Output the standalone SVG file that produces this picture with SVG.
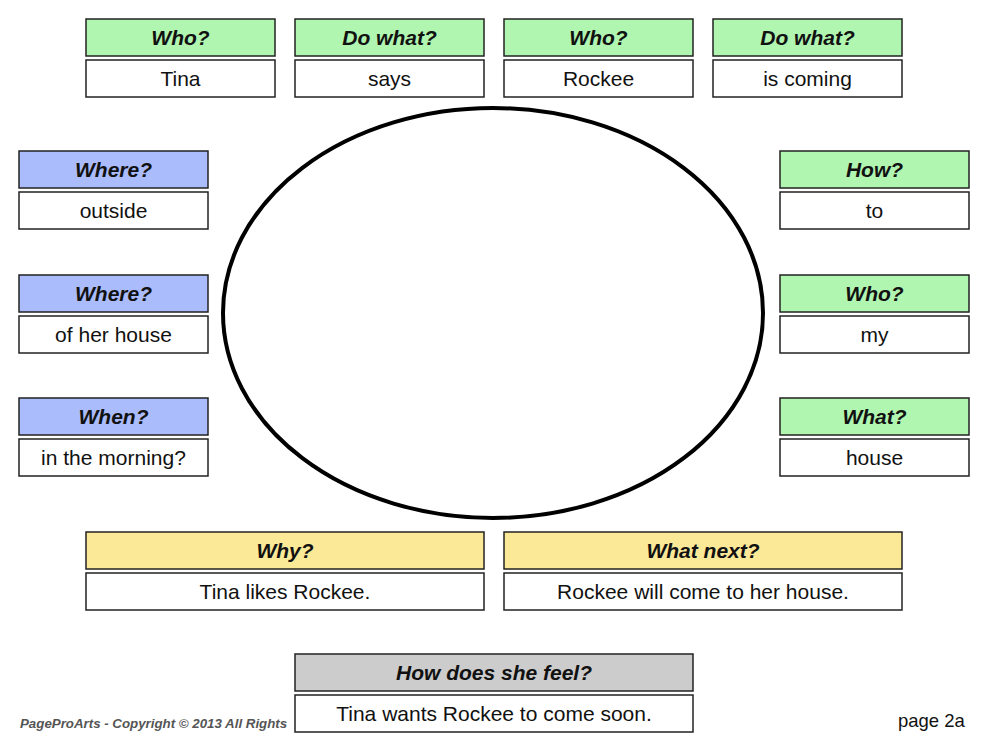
<svg xmlns="http://www.w3.org/2000/svg" width="988" height="750" viewBox="0 0 988 750">
<style>
.h{stroke:#222;stroke-width:1.5}
.v{fill:#fff;stroke:#222;stroke-width:1.5}
.g{fill:#b0f5b0}.b{fill:#aabcfb}.y{fill:#fbe998}.k{fill:#cccccc}
.ht{font-family:"Liberation Sans",Arial,sans-serif;font-size:21px;font-weight:bold;font-style:italic;fill:#111;text-anchor:middle}
.vt{font-family:"Liberation Sans",Arial,sans-serif;font-size:21px;fill:#111;text-anchor:middle}
</style>
<rect width="988" height="750" fill="#fff"/>
<g id="ellipse"><ellipse cx="493" cy="313" rx="270" ry="205" fill="none" stroke="#000" stroke-width="4"/></g>
<g id="n1"><rect class="h g" x="86" y="19" width="189" height="37"/><text class="ht" x="180.5" y="45">Who?</text><rect class="v" x="86" y="60" width="189" height="37"/><text class="vt" x="180.5" y="86">Tina</text></g>
<g id="n2"><rect class="h g" x="295" y="19" width="189" height="37"/><text class="ht" x="389.5" y="45">Do what?</text><rect class="v" x="295" y="60" width="189" height="37"/><text class="vt" x="389.5" y="86">says</text></g>
<g id="n3"><rect class="h g" x="504" y="19" width="189" height="37"/><text class="ht" x="598.5" y="45">Who?</text><rect class="v" x="504" y="60" width="189" height="37"/><text class="vt" x="598.5" y="86">Rockee</text></g>
<g id="n4"><rect class="h g" x="713" y="19" width="189" height="37"/><text class="ht" x="807.5" y="45">Do what?</text><rect class="v" x="713" y="60" width="189" height="37"/><text class="vt" x="807.5" y="86">is coming</text></g>
<g id="n5"><rect class="h b" x="19" y="151" width="189" height="37"/><text class="ht" x="113.5" y="177">Where?</text><rect class="v" x="19" y="192" width="189" height="37"/><text class="vt" x="113.5" y="218">outside</text></g>
<g id="n6"><rect class="h b" x="19" y="275" width="189" height="37"/><text class="ht" x="113.5" y="301">Where?</text><rect class="v" x="19" y="316" width="189" height="37"/><text class="vt" x="113.5" y="342">of her house</text></g>
<g id="n7"><rect class="h b" x="19" y="398" width="189" height="37"/><text class="ht" x="113.5" y="424">When?</text><rect class="v" x="19" y="439" width="189" height="37"/><text class="vt" x="113.5" y="465">in the morning?</text></g>
<g id="n8"><rect class="h g" x="780" y="151" width="189" height="37"/><text class="ht" x="874.5" y="177">How?</text><rect class="v" x="780" y="192" width="189" height="37"/><text class="vt" x="874.5" y="218">to</text></g>
<g id="n9"><rect class="h g" x="780" y="275" width="189" height="37"/><text class="ht" x="874.5" y="301">Who?</text><rect class="v" x="780" y="316" width="189" height="37"/><text class="vt" x="874.5" y="342">my</text></g>
<g id="n10"><rect class="h g" x="780" y="398" width="189" height="37"/><text class="ht" x="874.5" y="424">What?</text><rect class="v" x="780" y="439" width="189" height="37"/><text class="vt" x="874.5" y="465">house</text></g>
<g id="n11"><rect class="h y" x="86" y="532" width="398" height="37"/><text class="ht" x="285" y="558">Why?</text><rect class="v" x="86" y="573" width="398" height="37"/><text class="vt" x="285" y="599">Tina likes Rockee.</text></g>
<g id="n12"><rect class="h y" x="504" y="532" width="398" height="37"/><text class="ht" x="703" y="558">What next?</text><rect class="v" x="504" y="573" width="398" height="37"/><text class="vt" x="703" y="599">Rockee will come to her house.</text></g>
<g id="n13"><rect class="h k" x="295" y="654" width="398" height="37"/><text class="ht" x="494" y="680">How does she feel?</text><rect class="v" x="295" y="695" width="398" height="37"/><text class="vt" x="494" y="721">Tina wants Rockee to come soon.</text></g>
<g id="connectors"></g>
<text x="20" y="728" font-family="Liberation Sans,Arial,sans-serif" font-size="13.3" font-weight="bold" font-style="italic" fill="#555">PageProArts - Copyright © 2013 All Rights</text>
<text x="898" y="727" font-family="Liberation Sans,Arial,sans-serif" font-size="18.5" fill="#111">page 2a</text>
</svg>
